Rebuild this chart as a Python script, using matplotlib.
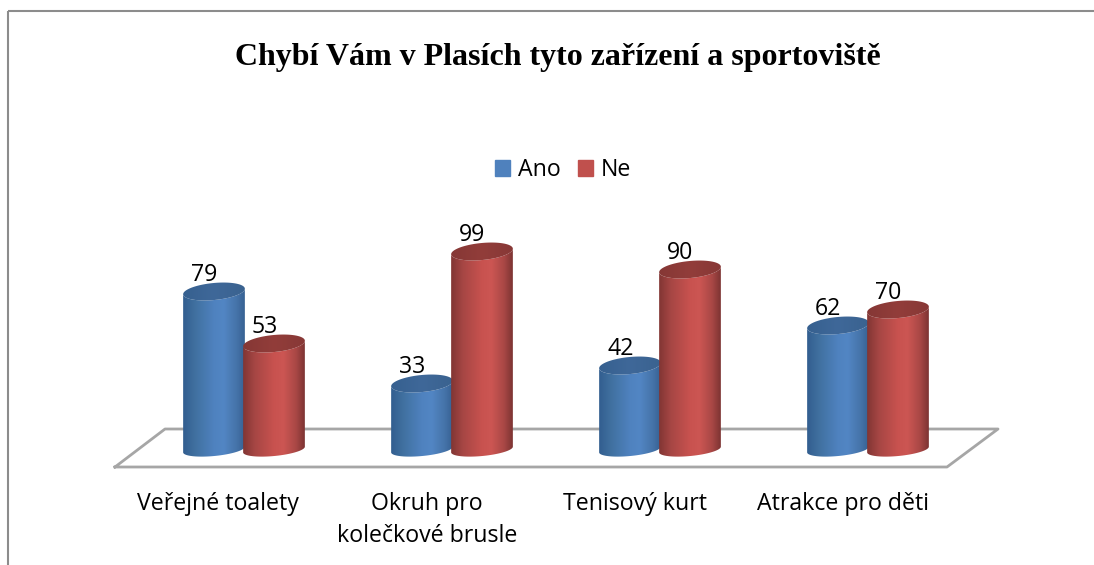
import numpy as np
import matplotlib
matplotlib.use('Agg')
import matplotlib.pyplot as plt
from matplotlib.colors import LinearSegmentedColormap
from matplotlib.lines import Line2D
from matplotlib.patches import Patch, PathPatch
from matplotlib.path import Path
from matplotlib.transforms import Affine2D

categories = ['Veřejné toalety', 'Okruh pro\nkolečkové brusle', 'Tenisový kurt', 'Atrakce pro děti']
ano = [79, 33, 42, 62]
ne = [53, 99, 90, 70]
series_names = ['Ano', 'Ne']

W, H = 1094, 565
GROUP_PX = 208.0   # px per category
UNIT_PX = 2.0      # px per answer count
X0_PX = 244.0      # pixel x of first category
Y0_PX = 449.5      # pixel y of zero
RX, RY, TILT = 31.0, 8.5, np.radians(5.5)  # cylinder ellipse, in px
RY_BOTTOM = 6.5
OFFSET = 30.0 / GROUP_PX
LABEL_X = [218, 427, 635, 843]

TEXT_FONT = ['Open Sans', 'DejaVu Sans']

fig = plt.figure(figsize=(W / 100, H / 100), dpi=100, facecolor='white')
ax = fig.add_axes([0, 0, 1, 1])
xlim = (-X0_PX / GROUP_PX, (W - X0_PX) / GROUP_PX)
ylim = ((Y0_PX - H) / UNIT_PX, Y0_PX / UNIT_PX)
ax.axis('off')

# pixel coordinates, origin top left, for the frame and the floor
px = Affine2D().scale(1, -1).translate(0, H)


def ellipse(x, y, t, ry=RY):
    ex = RX * np.cos(t) * np.cos(TILT) - ry * np.sin(t) * np.sin(TILT)
    ey = RX * np.cos(t) * np.sin(TILT) + ry * np.sin(t) * np.cos(TILT)
    return x + ex / GROUP_PX, y + ey / UNIT_PX


def cylinder(x, value, side_cmap, top_cmap, z):
    # t measured so the near side of each ellipse is the lower half
    lower = np.linspace(np.pi, 2 * np.pi, 60)
    bx, by = ellipse(x, 0, lower, RY_BOTTOM)
    tx, ty = ellipse(x, value, lower[::-1])
    verts = np.column_stack([np.r_[bx, tx, bx[0]], np.r_[by, ty, by[0]]])
    codes = [Path.MOVETO] + [Path.LINETO] * (len(verts) - 2) + [Path.CLOSEPOLY]
    grad = np.linspace(0, 1, 256)[None, :]
    left, right = x - 32 / GROUP_PX, x + 32 / GROUP_PX
    side = ax.imshow(grad, cmap=side_cmap, aspect='auto', zorder=z, interpolation='bilinear',
                     extent=(left, right, -15, value + 15))
    side.set_clip_path(PathPatch(Path(verts, codes), transform=ax.transData))

    whole = np.linspace(0, 2 * np.pi, 80)
    ex, ey = ellipse(x, value, whole)
    verts = np.column_stack([ex, ey])
    codes = [Path.MOVETO] + [Path.LINETO] * (len(verts) - 2) + [Path.CLOSEPOLY]
    top = ax.imshow(grad, cmap=top_cmap, aspect='auto', zorder=z + 0.1, interpolation='bilinear',
                    extent=(left, right, value - 10, value + 10))
    top.set_clip_path(PathPatch(Path(verts, codes), transform=ax.transData))


blue_side = LinearSegmentedColormap.from_list('bs', [(0, '#315c8e'), (0.2, '#40709f'), (0.5, '#4f82bf'),
                                                      (0.65, '#5286c4'), (0.85, '#4674aa'), (1, '#355f90')])
red_side = LinearSegmentedColormap.from_list('rs', [(0, '#7e3432'), (0.2, '#a64644'), (0.5, '#c8524f'),
                                                     (0.65, '#cc5653'), (0.85, '#a84745'), (1, '#773130')])
blue_top = LinearSegmentedColormap.from_list('bt', ['#36608f', '#3f6899', '#3a628f'])
red_top = LinearSegmentedColormap.from_list('rt', ['#853735', '#923d3a', '#873836'])

# frame, cut off at the bottom and on the right
for xs, ys in [([8, 8], [565, 11]), ([8, 1094], [11, 11])]:
    fig.add_artist(Line2D(xs, ys, color='#8c8c8c', lw=1.5, transform=px, solid_capstyle='butt'))

# floor of the 3D plot
fig.add_artist(Line2D([115, 947, 998, 165, 115], [467, 467, 429, 429, 467], color='#a6a6a6',
                      lw=2, transform=px, zorder=0))

for i, (a, n) in enumerate(zip(ano, ne)):
    cylinder(i - OFFSET, a, blue_side, blue_top, 3 + i)
    cylinder(i + OFFSET, n, red_side, red_top, 3.5 + i)
    for x, v in [(i - OFFSET, a), (i + OFFSET, n)]:
        ax.annotate(str(v), (x, v), xytext=(-7, 3.5), textcoords='offset points', ha='center',
                    va='bottom', fontsize=16.7, color='black', family=TEXT_FONT, zorder=10)

ax.set_xlim(*xlim)
ax.set_ylim(*ylim)

for lx, label in zip(LABEL_X, categories):
    ax.text(lx, 492, label, transform=px, ha='center', va='top', fontsize=16.7,
            family=TEXT_FONT, color='black', linespacing=1.47)

ax.text(558, 57, 'Chybí Vám v Plasích tyto zařízení a sportoviště', transform=px, ha='center',
        va='center', fontsize=23, fontweight='bold', family=['Liberation Serif', 'DejaVu Serif'])

handles = [Patch(color='#4f81bd', label=series_names[0]), Patch(color='#c0504d', label=series_names[1])]
ax.legend(handles=handles, ncol=2, loc='center', bbox_to_anchor=(563 / W, 1 - 170 / H),
          frameon=False, prop={'family': TEXT_FONT, 'size': 16.7}, handlelength=0.65,
          handleheight=0.65, handletextpad=0.32, columnspacing=0.75)

fig.savefig('out.png', dpi=100, facecolor='white')
